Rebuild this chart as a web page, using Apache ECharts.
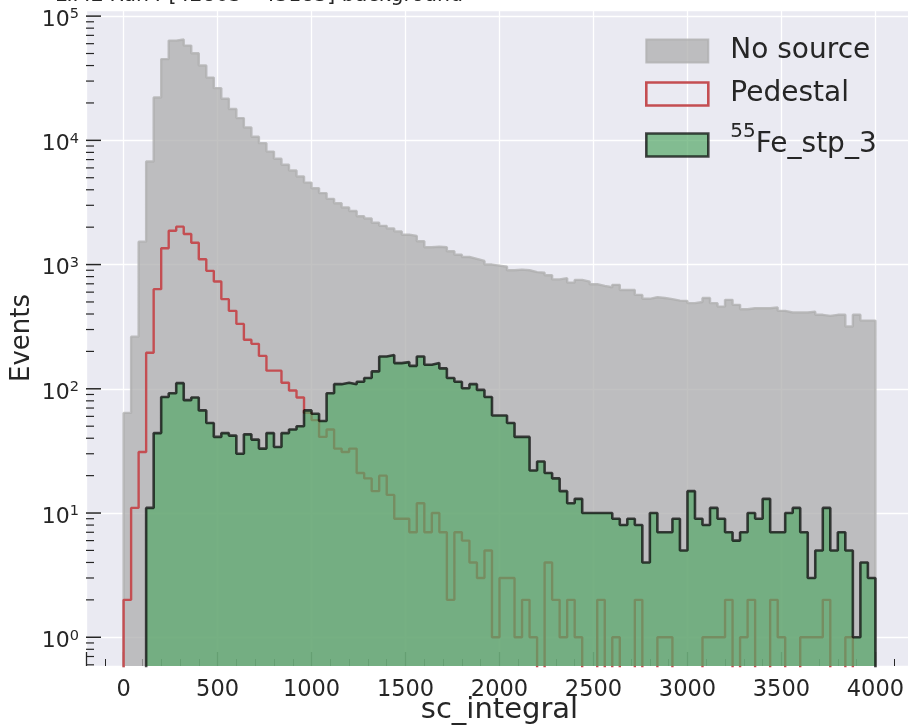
<!DOCTYPE html>
<html>
<head>
<meta charset="utf-8">
<title>sc_integral spectra</title>
<script src="https://cdn.jsdelivr.net/npm/echarts@6.0.0/dist/echarts.min.js"></script>
<style>
  html, body { margin: 0; padding: 0; background: #ffffff; }
  #chart { width: 908px; height: 725px; }
</style>
</head>
<body>
<div id="chart"></div>
<script>
// ---- histogram binning: 100 bins of width 40 over sc_integral 0 .. 4000 ----
const binEdges = [
  0, 40, 80, 120, 160, 200, 240, 280, 320, 360,
  400, 440, 480, 520, 560, 600, 640, 680, 720, 760,
  800, 840, 880, 920, 960, 1000, 1040, 1080, 1120, 1160,
  1200, 1240, 1280, 1320, 1360, 1400, 1440, 1480, 1520, 1560,
  1600, 1640, 1680, 1720, 1760, 1800, 1840, 1880, 1920, 1960,
  2000, 2040, 2080, 2120, 2160, 2200, 2240, 2280, 2320, 2360,
  2400, 2440, 2480, 2520, 2560, 2600, 2640, 2680, 2720, 2760,
  2800, 2840, 2880, 2920, 2960, 3000, 3040, 3080, 3120, 3160,
  3200, 3240, 3280, 3320, 3360, 3400, 3440, 3480, 3520, 3560,
  3600, 3640, 3680, 3720, 3760, 3800, 3840, 3880, 3920, 3960,
  4000
];

// ---- bin counts ----
const noSource = [
  64, 263, 1530, 6750, 22100, 45100, 63500, 64800, 57900, 50300,
  40000, 32000, 26300, 21600, 17900, 15100, 12700, 10700, 9490, 8120,
  7100, 6360, 5720, 5110, 4570, 4120, 3760, 3380, 3120, 2880,
  2700, 2450, 2350, 2170, 2050, 1950, 1850, 1740, 1700, 1540,
  1380, 1390, 1380, 1280, 1200, 1150, 1110, 1070, 1000, 980,
  960, 900, 910, 900, 870, 860, 820, 760, 777, 716,
  753, 729, 695, 673, 657, 687, 625, 625, 570, 530,
  546, 538, 527, 513, 510, 489, 500, 538, 489, 459,
  520, 474, 437, 445, 445, 445, 452, 424, 411, 411,
  411, 418, 394, 386, 394, 394, 317, 394, 354, 354
];

const pedestal = [
  2, 11, 31, 195, 634, 1355, 1870, 2020, 1760, 1500,
  1105, 890, 730, 527, 424, 333, 248, 230, 184, 140,
  140, 112, 97, 85, 64, 56, 41, 47, 33, 31,
  33, 21, 19, 15, 20, 14, 9, 9, 7, 12,
  7, 10, 7, 2, 7, 6, 4, 3, 5, 1,
  3, 3, 1, 2, 1, 0, 4, 2, 1, 2,
  1, 0, 0, 2, 0, 1, 0, 0, 2, 0,
  0, 1, 1, 0, 0, 0, 0, 1, 1, 1,
  2, 0, 1, 2, 0, 0, 2, 1, 0, 0,
  1, 1, 1, 2, 0, 0, 1, 0, 0, 0
];

const fe55 = [
  0, 0, 0, 11, 44, 86, 92, 111, 81, 85,
  67, 53, 41, 44, 42, 30, 43, 39, 33, 44,
  34, 44, 47, 50, 67, 63, 55, 92, 109, 112,
  109, 114, 122, 138, 182, 187, 161, 164, 153, 182,
  156, 161, 146, 122, 114, 101, 109, 98, 86, 61,
  61, 53, 41, 41, 22, 26, 21, 19, 15, 12,
  13, 10, 10, 10, 10, 9, 8, 9, 8, 4,
  10, 7, 7, 9, 5, 15, 9, 8, 11, 9,
  7, 6, 7, 10, 9, 13, 7, 7, 10, 11,
  7, 3, 5, 11, 5, 7, 5, 1, 4, 3
];

// ---- names and labels ----
const seriesNames = ['No source', 'Pedestal', '55Fe_stp_3'];
const titleText = 'LIME Run4 [42863 - 43183] background';
const xAxisName = 'sc_integral';
const yAxisName = 'Events';

// ---- axis ranges ----
const X_MIN = -200, X_MAX = 4200;
const Y_MIN = 0.587, Y_MAX = 112000;
// empty bins are drawn at this level, below the visible range, so the outline drops off the plot
const FLOOR = 0.01;

// ---- colours ----
const INK = '#262626';
const PANEL = '#EAEAF2';
const GREY = 'rgba(174,174,174,0.75)';
const RED = '#C44E52';
const GREEN_FILL = 'rgba(85,168,104,0.7)';
const GREEN_EDGE = 'rgba(0,0,0,0.7)';
const FONT = 'DejaVu Sans';

// Outline of a step histogram: each count is held across its bin (step 'end').
// The outline starts at the first filled bin and ends after the last filled one.
function stepOutline(counts) {
  let first = 0, last = counts.length - 1;
  while (first < last && !(counts[first] > 0)) first++;
  while (last > first && !(counts[last] > 0)) last--;
  const pts = [[binEdges[first], FLOOR]];
  for (let i = first; i <= last; i++) pts.push([binEdges[i], counts[i] > 0 ? counts[i] : FLOOR]);
  pts.push([binEdges[last + 1], FLOOR]);
  return pts;
}

// Log-axis tick marks (decades and 2..9 subdivisions), drawn inside the left edge.
const yTickMarks = [];
for (let k = -1; k <= 5; k++) {
  for (let m = 1; m <= 9; m++) {
    const v = m * Math.pow(10, k);
    if (v >= Y_MIN && v <= Y_MAX) yTickMarks.push([X_MIN, v, m === 1 ? 1 : 0]);
  }
}

function isDecade(v) {
  const l = Math.log10(v);
  return Math.abs(l - Math.round(l)) < 1e-6;
}

const chart = echarts.init(document.getElementById('chart'), null, { renderer: 'canvas' });

chart.setOption({
  animation: false,
  backgroundColor: '#ffffff',
  textStyle: { fontFamily: FONT, color: INK },
  graphic: [
    {
      // plot title, running off the top edge of the figure
      type: 'text',
      x: 55,
      y: -4,
      silent: true,
      style: {
        text: titleText,
        fontFamily: FONT,
        fontSize: 20.5,
        fill: INK,
        verticalAlign: 'middle'
      }
    }
  ],
  grid: {
    left: 86, right: -5, top: 10, bottom: 59,
    containLabel: false,
    outerBoundsMode: 'none',
    show: true, backgroundColor: PANEL, borderWidth: 0
  },
  legend: {
    orient: 'vertical',
    left: 645,
    top: 36,
    padding: 0,
    itemWidth: 62,
    itemHeight: 23,
    itemGap: 13,
    selectedMode: false,
    textStyle: {
      fontFamily: FONT, fontSize: 28, color: INK, lineHeight: 30,
      padding: [0, 0, 0, 17],
      rich: {
        sup: { fontFamily: FONT, fontSize: 20, lineHeight: 26, verticalAlign: 'top', color: INK },
        base: { fontFamily: FONT, fontSize: 28, lineHeight: 46, color: INK }
      }
    },
    formatter: function (name) {
      if (name === seriesNames[2]) return '{sup|55}{base|Fe_stp_3}';
      return name;
    },
    data: [
      { name: seriesNames[0], icon: 'rect', itemStyle: { color: GREY, borderColor: GREY, borderWidth: 2 } },
      { name: seriesNames[1], icon: 'rect', itemStyle: { color: 'rgba(0,0,0,0)', borderColor: RED, borderWidth: 2.6 } },
      { name: seriesNames[2], icon: 'rect', itemStyle: { color: GREEN_FILL, borderColor: GREEN_EDGE, borderWidth: 2.6 } }
    ]
  },
  xAxis: {
    type: 'value',
    min: X_MIN,
    max: X_MAX,
    minInterval: 500,
    maxInterval: 500,
    name: xAxisName,
    nameLocation: 'middle',
    nameGap: 30,
    nameMoveOverlap: false,
    nameTextStyle: { fontFamily: FONT, fontSize: 29, color: INK },
    axisLine: { show: false },
    axisTick: { show: true, inside: true, length: 14, lineStyle: { color: INK, width: 1.3 } },
    minorTick: { show: true, splitNumber: 5, length: 7, lineStyle: { color: INK, width: 1 } },
    axisLabel: {
      fontFamily: FONT, fontSize: 22.5, color: INK, margin: 13,
      showMinLabel: false, showMaxLabel: false,
      formatter: function (v) { return String(v); }
    },
    splitLine: { show: true, lineStyle: { color: '#ffffff', width: 1.3 } }
  },
  yAxis: {
    type: 'log',
    logBase: 10,
    min: Y_MIN,
    max: Y_MAX,
    name: yAxisName,
    nameLocation: 'middle',
    nameGap: 51,
    nameMoveOverlap: false,
    nameTextStyle: { fontFamily: FONT, fontSize: 26, color: INK },
    axisLine: { show: false },
    axisTick: { show: false },
    axisLabel: {
      margin: 7,
      padding: [8, 0, 0, 0],
      formatter: function (v) {
        if (!isDecade(v)) return '';
        return '{b|10}{s|' + Math.round(Math.log10(v)) + '}';
      },
      rich: {
        b: { fontFamily: FONT, fontSize: 22, lineHeight: 26, color: INK },
        s: { fontFamily: FONT, fontSize: 14.5, lineHeight: 14, verticalAlign: 'top', color: INK }
      }
    },
    splitLine: { show: true, lineStyle: { color: '#ffffff', width: 1.3 } }
  },
  series: [
    {
      name: seriesNames[0],
      type: 'line',
      step: 'end',
      data: stepOutline(noSource),
      symbol: 'none',
      clip: true,
      silent: true,
      z: 2,
      emphasis: { disabled: true },
      itemStyle: { color: GREY },
      lineStyle: { color: GREY, width: 2.4 },
      areaStyle: { color: GREY, opacity: 1, origin: 'start' }
    },
    {
      name: seriesNames[1],
      type: 'line',
      step: 'end',
      data: stepOutline(pedestal),
      symbol: 'none',
      clip: true,
      silent: true,
      z: 3,
      emphasis: { disabled: true },
      itemStyle: { color: RED },
      lineStyle: { color: RED, width: 2.4 }
    },
    {
      name: seriesNames[2],
      type: 'line',
      step: 'end',
      data: stepOutline(fe55),
      symbol: 'none',
      clip: true,
      silent: true,
      z: 4,
      emphasis: { disabled: true },
      itemStyle: { color: GREEN_FILL },
      lineStyle: { color: GREEN_EDGE, width: 2.6 },
      areaStyle: { color: GREEN_FILL, opacity: 1, origin: 'start' }
    },
    {
      // tick marks of the logarithmic Events axis
      name: 'yTicks',
      type: 'custom',
      coordinateSystem: 'cartesian2d',
      data: yTickMarks,
      encode: { x: 0, y: 1 },
      silent: true,
      clip: false,
      z: 1,
      renderItem: function (params, api) {
        const p = api.coord([api.value(0), api.value(1)]);
        const major = api.value(2) === 1;
        const len = major ? 15 : 8;
        return {
          type: 'line',
          shape: { x1: p[0], y1: p[1], x2: p[0] + len, y2: p[1] },
          style: { stroke: INK, lineWidth: major ? 1.5 : 1.2 }
        };
      }
    }
  ]
});
</script>
</body>
</html>
